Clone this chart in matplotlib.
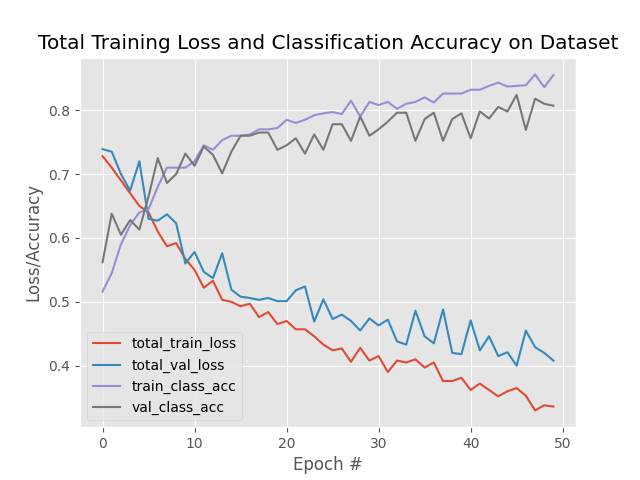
import matplotlib
matplotlib.use("Agg")
import matplotlib.pyplot as plt
import numpy as np

train_loss = [0.728, 0.71, 0.69, 0.67, 0.65, 0.64, 0.61, 0.587, 0.592, 0.567,
              0.55, 0.522, 0.533, 0.503, 0.5, 0.493, 0.497, 0.476, 0.484, 0.465,
              0.47, 0.457, 0.457, 0.446, 0.433, 0.424, 0.427, 0.406, 0.428, 0.408,
              0.415, 0.39, 0.408, 0.405, 0.41, 0.397, 0.405, 0.376, 0.376, 0.381,
              0.362, 0.372, 0.362, 0.352, 0.36, 0.365, 0.353, 0.33, 0.338, 0.336]
val_loss = [0.739, 0.735, 0.7, 0.674, 0.72, 0.63, 0.627, 0.637, 0.623, 0.56,
            0.578, 0.547, 0.537, 0.576, 0.519, 0.508, 0.506, 0.503, 0.506, 0.501,
            0.501, 0.518, 0.524, 0.469, 0.504, 0.473, 0.48, 0.47, 0.455, 0.474,
            0.463, 0.472, 0.438, 0.433, 0.486, 0.446, 0.435, 0.488, 0.42, 0.418,
            0.471, 0.424, 0.446, 0.415, 0.421, 0.4, 0.455, 0.429, 0.42, 0.408]
train_acc = [0.516, 0.545, 0.59, 0.62, 0.64, 0.645, 0.68, 0.71, 0.71, 0.71,
             0.72, 0.745, 0.738, 0.753, 0.76, 0.76, 0.762, 0.77, 0.77, 0.772,
             0.785, 0.78, 0.785, 0.792, 0.795, 0.797, 0.794, 0.815, 0.79, 0.813,
             0.808, 0.813, 0.802, 0.81, 0.813, 0.82, 0.812, 0.826, 0.826, 0.826,
             0.832, 0.832, 0.838, 0.843, 0.837, 0.838, 0.839, 0.856, 0.836, 0.855]
val_acc = [0.562, 0.638, 0.605, 0.628, 0.613, 0.665, 0.725, 0.686, 0.7, 0.732,
           0.713, 0.743, 0.73, 0.701, 0.735, 0.76, 0.76, 0.765, 0.765, 0.738,
           0.745, 0.756, 0.732, 0.762, 0.738, 0.778, 0.778, 0.752, 0.79, 0.76,
           0.77, 0.782, 0.796, 0.796, 0.752, 0.786, 0.796, 0.752, 0.786, 0.795,
           0.756, 0.798, 0.787, 0.805, 0.798, 0.824, 0.769, 0.818, 0.81, 0.807]

plt.style.use("ggplot")
epochs = np.arange(len(train_loss))

plt.figure(figsize=(6.4, 4.8), dpi=100)
plt.plot(epochs, train_loss, label="total_train_loss")
plt.plot(epochs, val_loss, label="total_val_loss")
plt.plot(epochs, train_acc, label="train_class_acc")
plt.plot(epochs, val_acc, label="val_class_acc")
plt.title("Total Training Loss and Classification Accuracy on Dataset")
plt.xlabel("Epoch #")
plt.ylabel("Loss/Accuracy")
plt.legend(loc="lower left")
plt.savefig("out.png")
